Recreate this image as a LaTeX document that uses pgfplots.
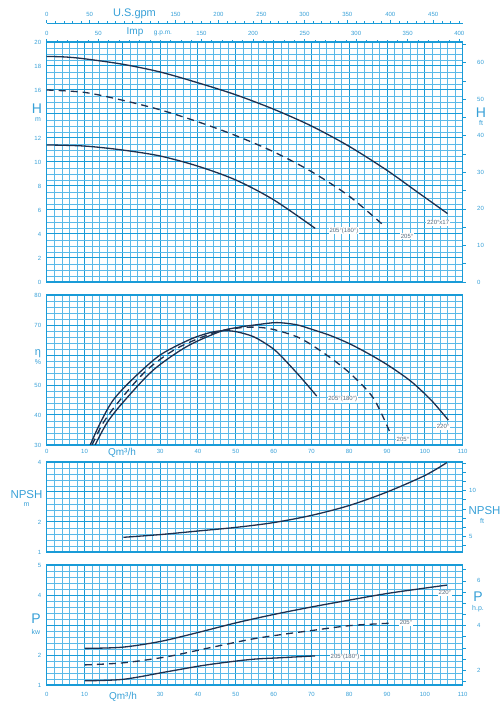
\documentclass[border=0pt]{standalone}
\usepackage{pgfplots}
\pgfplotsset{compat=1.18}
\usepackage{fontspec}
\setmainfont{Liberation Sans}

\definecolor{gridblue}{RGB}{25,155,215}
\definecolor{minorblue}{RGB}{90,185,232}
\definecolor{txtblue}{RGB}{55,160,215}
\definecolor{curvecol}{RGB}{30,48,78}
\definecolor{lblcol}{RGB}{85,105,125}

\tikzset{
  curvelabel/.style={fill=white, inner sep=0.8pt, font=\fontsize{6}{7}\selectfont, text=lblcol},
}
\pgfplotsset{
  panel/.style={
    scale only axis, width=416pt, anchor=south west,
    xmin=0, xmax=110,
    xtick={0,10,...,110}, minor x tick num=4,
    grid=both,
    major grid style={draw=gridblue, line width=1.0pt},
    minor grid style={draw=minorblue, line width=0.5pt},
    axis line style={draw=gridblue, line width=1.1pt},
    major tick length=0pt, minor tick length=0pt,
    ticklabel style={font=\fontsize{6}{7}\selectfont, text=txtblue},
    yticklabel style={xshift=-2pt},
    /pgf/number format/assume math mode=true,
  },
  noqlabels/.style={xticklabels={,,,,,,,,,,,}},
  rightside/.style={
    scale only axis, width=416pt, anchor=south west,
    xmin=0, xmax=110, hide x axis,
    axis y line*=right,
    axis line style={draw=none},
    tick align=outside,
    major tick length=3pt, minor tick length=3pt,
    every tick/.style={draw=gridblue, line width=0.5pt},
    ticklabel style={font=\fontsize{6}{7}\selectfont, text=txtblue},
    /pgf/number format/assume math mode=true,
  },
  topscale/.style={
    scale only axis, width=416pt, anchor=south west,
    hide y axis, axis x line*=top,
    axis line style={draw=gridblue, line width=0.6pt},
    tick align=outside,
    major tick length=3pt, minor tick length=1.8pt,
    every tick/.style={draw=gridblue, line width=0.5pt},
    ticklabel style={font=\fontsize{6}{7}\selectfont, text=txtblue},
    /pgf/number format/assume math mode=true,
  },
  pump/.style={draw=curvecol, line width=1.3pt, smooth, no marks},
  pumpdash/.style={pump, dash pattern=on 7pt off 5pt},
}

\begin{document}
\begin{tikzpicture}[x=1pt,y=1pt]
\useasboundingbox (0,0) rectangle (502,702);

% ---------- flow scales in gallons ----------
\begin{axis}[topscale, at={(46.7pt,669pt)}, height=10pt,
  xmin=0, xmax=484.32, ymin=0, ymax=1,
  xtick={0,50,150,200,250,300,350,400,450}, minor xtick={10,20,...,480,100}]
\end{axis}

% ---------- head ----------
\begin{axis}[panel, noqlabels, at={(46.7pt,420pt)}, height=240pt,
  ymin=0, ymax=20, ytick={0,2,...,20}, minor y tick num=3,
  yticklabels={0,2,4,6,8,10,12,,16,18,20}]
\addplot[pump] coordinates {(0,18.8) (5,18.75) (10,18.6) (20,18.15) (30,17.5) (40,16.6) (50,15.6) (60,14.4) (70,13.0) (80,11.3) (90,9.3) (98,7.5) (106,5.7)};
\addplot[pumpdash] coordinates {(0,16.0) (10,15.8) (20,15.15) (30,14.35) (40,13.35) (50,12.2) (60,10.85) (70,9.2) (80,7.15) (89.5,4.6)};
\addplot[pump] coordinates {(0,11.42) (10,11.33) (20,11.0) (30,10.5) (40,9.65) (50,8.5) (60,6.85) (71,4.47)};
\node[curvelabel] at (axis cs:103.5,4.94) {220°x17};
\node[curvelabel] at (axis cs:95.3,3.83) {205°};
\node[curvelabel] at (axis cs:78.6,4.27) {205°(180°)};
\end{axis}
\begin{axis}[topscale, at={(46.7pt,420pt)}, height=240pt,
  xmin=0, xmax=403.28, ymin=0, ymax=1,
  xtick={0,50,150,200,250,300,350,400}, minor xtick={10,20,...,400,100}]
\end{axis}
\begin{axis}[rightside, at={(46.7pt,420pt)}, height=240pt,
  ymin=0, ymax=65.617, ytick={0,10,...,60}, minor ytick={5,15,...,65},
  yticklabel style={xshift=8pt}]
\end{axis}

% ---------- efficiency ----------
\begin{axis}[panel, at={(46.7pt,257pt)}, height=150pt,
  ymin=30, ymax=80, ytick={30,40,...,80}, minor y tick num=4,
  yticklabels={30,40,50,,70,80},
  xticklabels={0,10,,30,40,50,60,70,80,90,100,110},
  xticklabel style={yshift=-1pt}]
\addplot[pump] coordinates {(11.5,30) (14.1,37.2) (17.6,45) (22.9,52.2) (30,60) (37.9,65.2) (43,67.4) (46.5,68.1) (50,67.8) (54.7,66.1) (59.1,62.8) (61.7,60) (67,52.8) (71.4,46.3)};
\addplot[pumpdash] coordinates {(12,30) (15,37.5) (19.4,45) (26.5,55) (34.4,62.2) (44.1,67.4) (50,68.9) (55,69.3) (60,68.5) (67,65.6) (74,60) (80.2,53.9) (86.4,45.6) (91,33.5)};
\addplot[pump] coordinates {(12.8,30) (16,37.5) (20.3,44.4) (28.2,55) (37,62.8) (45.8,67.8) (50.5,69.2) (55.6,70.1) (60.8,70.8) (66,70.1) (70,68.6) (75,66.5) (80,63.8) (85,60.5) (90,56.8) (95,52.5) (98,49.4) (102,44.5) (106.2,38.3)};
\node[curvelabel] at (axis cs:104.8,36.1) {220°};
\node[curvelabel] at (axis cs:94.2,31.9) {205°};
\node[curvelabel] at (axis cs:78.3,45.3) {205°(180°)};
\end{axis}

% ---------- NPSH ----------
\begin{axis}[panel, noqlabels, at={(46.7pt,150pt)}, height=90pt,
  ymin=1, ymax=4, ytick={1,2,3,4}, minor y tick num=4,
  yticklabels={1,2,,4}]
\addplot[pump] coordinates {(20.3,1.49) (30,1.58) (40,1.7) (50,1.82) (60,1.98) (70,2.22) (80,2.55) (90,3.0) (100,3.55) (105.8,3.98)};
\end{axis}
\begin{axis}[rightside, at={(46.7pt,150pt)}, height=90pt,
  ymin=3.28084, ymax=13.12336, ytick={5,10}, minor ytick={4,6,7,8,9,11,12,13},
  yticklabel style={xshift=0pt}]
\end{axis}

% ---------- power ----------
\begin{axis}[panel, at={(46.7pt,17pt)}, height=120pt,
  ymin=1, ymax=5, ytick={1,2,3,4,5}, minor y tick num=4,
  yticklabels={1,2,,4,5},
  xticklabels={0,10,,30,40,50,60,70,80,90,100,110},
  xticklabel style={yshift=-4pt}]
\addplot[pump] coordinates {(10.1,2.22) (20,2.26) (30,2.45) (40,2.75) (50,3.07) (60,3.35) (70,3.6) (80,3.83) (90,4.05) (100,4.23) (105.8,4.33)};
\addplot[pumpdash] coordinates {(10.1,1.67) (20.3,1.74) (31.7,1.94) (42.3,2.22) (53.8,2.52) (62,2.68) (69.7,2.81) (80.2,2.98) (90.8,3.06)};
\addplot[pump] coordinates {(10.1,1.14) (20.3,1.19) (31.7,1.44) (42.3,1.67) (53.8,1.85) (62,1.91) (71,1.97)};
\node[curvelabel] at (axis cs:105.3,4.07) {220°};
\node[curvelabel] at (axis cs:95.0,3.07) {205°};
\node[curvelabel] at (axis cs:78.9,1.93) {205°(180°)};
\end{axis}
\begin{axis}[rightside, at={(46.7pt,17pt)}, height=120pt,
  ymin=1.34102, ymax=6.70511, ytick={2,4,6}, minor ytick={1.5,2.5,3,3.5,4.5,5,5.5,6.5},
  yticklabel style={xshift=8pt}]
\end{axis}

% ---------- axis titles ----------
\begin{scope}[every node/.style={text=txtblue, inner sep=0pt}]
\node[font=\fontsize{11}{12}\selectfont] at (134.5,688) {U.S.gpm};
\node[font=\fontsize{10}{11}\selectfont] at (135,670) {Imp};
\node[font=\fontsize{6.5}{7}\selectfont] at (163,668.5) {g.p.m.};
\node[font=\fontsize{14}{15}\selectfont] at (37,593) {H};
\node[font=\fontsize{7}{8}\selectfont] at (38,582) {m};
\node[font=\fontsize{14}{15}\selectfont] at (481,589) {H};
\node[font=\fontsize{7}{8}\selectfont] at (481,579) {ft};
\node[font=\fontsize{11}{12}\selectfont] at (38,348) {η};
\node[font=\fontsize{7}{8}\selectfont] at (38,340) {\%};
\node[font=\fontsize{10}{11}\selectfont] at (122,249) {Qm³/h};
\node[font=\fontsize{11.5}{12}\selectfont] at (26.5,207) {NPSH};
\node[font=\fontsize{7}{8}\selectfont] at (26.5,197.5) {m};
\node[font=\fontsize{11.5}{12}\selectfont] at (484.5,191) {NPSH};
\node[font=\fontsize{7}{8}\selectfont] at (482,181) {ft};
\node[font=\fontsize{14}{15}\selectfont] at (36,83) {P};
\node[font=\fontsize{7}{8}\selectfont] at (36,70) {kw};
\node[font=\fontsize{14}{15}\selectfont] at (478,105) {P};
\node[font=\fontsize{7}{8}\selectfont] at (478,93) {h.p.};
\node[font=\fontsize{10}{11}\selectfont] at (123,5.5) {Qm³/h};
\end{scope}
\end{tikzpicture}
\end{document}
